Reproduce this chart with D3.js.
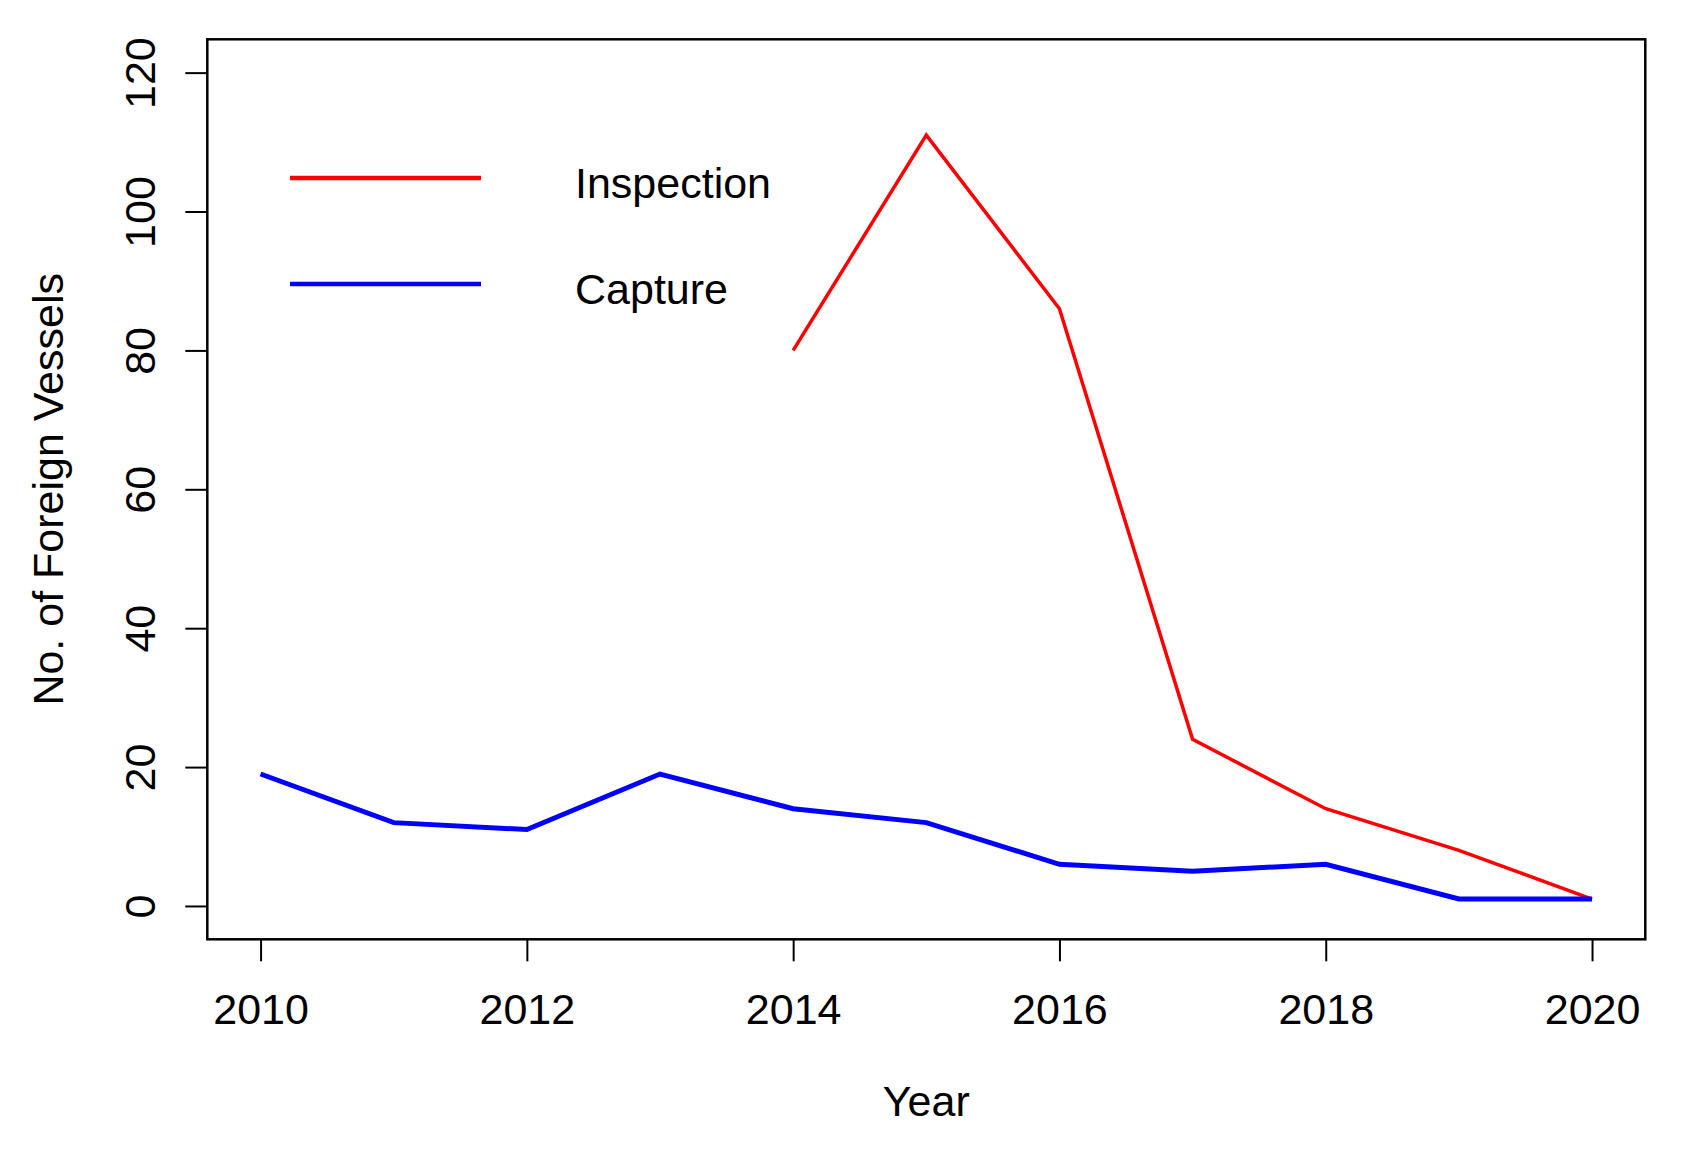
<!DOCTYPE html>
<html><head><meta charset="utf-8">
<script src="https://cdn.jsdelivr.net/npm/d3@7"></script>
<style>body{margin:0;background:#fff}svg{display:block}text{font-family:"Liberation Sans",Arial,sans-serif;fill:#000}</style>
</head><body>
<script>
const years = [2010,2011,2012,2013,2014,2015,2016,2017,2018,2019,2020];
const inspection = [null,null,null,null,80,111,86,24,14,8,1];
const capture = [19,12,11,19,14,12,6,5,6,1,1];
const xTicks = [2010,2012,2014,2016,2018,2020];
const yTicks = [0,20,40,60,80,100,120];
const seriesNames = ["Inspection","Capture"];
const seriesColors = ["#ff0000","#0000ff"];

const W=1683,H=1149;
const L=207.3,R=1645.3,T=39.3,B=939.3;
const FS="43px";
const svg=d3.select("body").append("svg").attr("width",W).attr("height",H);
const x=d3.scaleLinear().domain([2009.6,2020.4]).range([L,R]);
const y=d3.scaleLinear().domain([-4.8,124.8]).range([B,T]);

// box
svg.append("rect").attr("x",L).attr("y",T).attr("width",R-L).attr("height",B-T)
  .attr("fill","none").attr("stroke","#000").attr("stroke-width",2.5);

// x axis
const xa=svg.append("g").attr("transform",`translate(0,${B})`)
  .call(d3.axisBottom(x).tickValues(xTicks).tickFormat(d3.format("d")).tickSize(22));
xa.select(".domain").remove();
xa.selectAll("line").attr("stroke","#000").attr("stroke-width",2);
xa.selectAll("text").style("font-size",FS).attr("dy","0.71em").attr("y",54);

// y axis
const ya=svg.append("g").attr("transform",`translate(${L},0)`)
  .call(d3.axisLeft(y).tickValues(yTicks).tickSize(22).tickFormat(d3.format("d")));
ya.select(".domain").remove();
ya.selectAll("line").attr("stroke","#000").attr("stroke-width",2);
ya.selectAll("text").style("font-size",FS)
  .attr("x",null).attr("dy",null).attr("text-anchor","middle")
  .attr("transform","translate(-52,0) rotate(-90)");

// titles
svg.append("text").attr("x",(L+R)/2).attr("y",1116).attr("text-anchor","middle")
  .style("font-size",FS).text("Year");
svg.append("text").attr("transform",`translate(63,${(T+B)/2}) rotate(-90)`).attr("text-anchor","middle")
  .style("font-size",FS).text("No. of Foreign Vessels");

// lines
const line=d3.line().defined(d=>d[1]!=null).x(d=>x(d[0])).y(d=>y(d[1]));
const data=[inspection,capture];
const widths=[3.5,5];
[0,1].forEach(i=>{
  svg.append("path").datum(years.map((yr,j)=>[yr,data[i][j]]))
    .attr("d",line).attr("fill","none").attr("stroke",seriesColors[i])
    .attr("stroke-width",widths[i]).attr("stroke-linejoin","miter");
});

// legend
const legY=[178,284];
seriesNames.forEach((n,i)=>{
  svg.append("line").attr("x1",290).attr("x2",481).attr("y1",legY[i]).attr("y2",legY[i])
    .attr("stroke",seriesColors[i]).attr("stroke-width",4.5);
  svg.append("text").attr("x",575).attr("y",legY[i]+20).style("font-size",FS).text(n);
});
</script>
</body></html>
